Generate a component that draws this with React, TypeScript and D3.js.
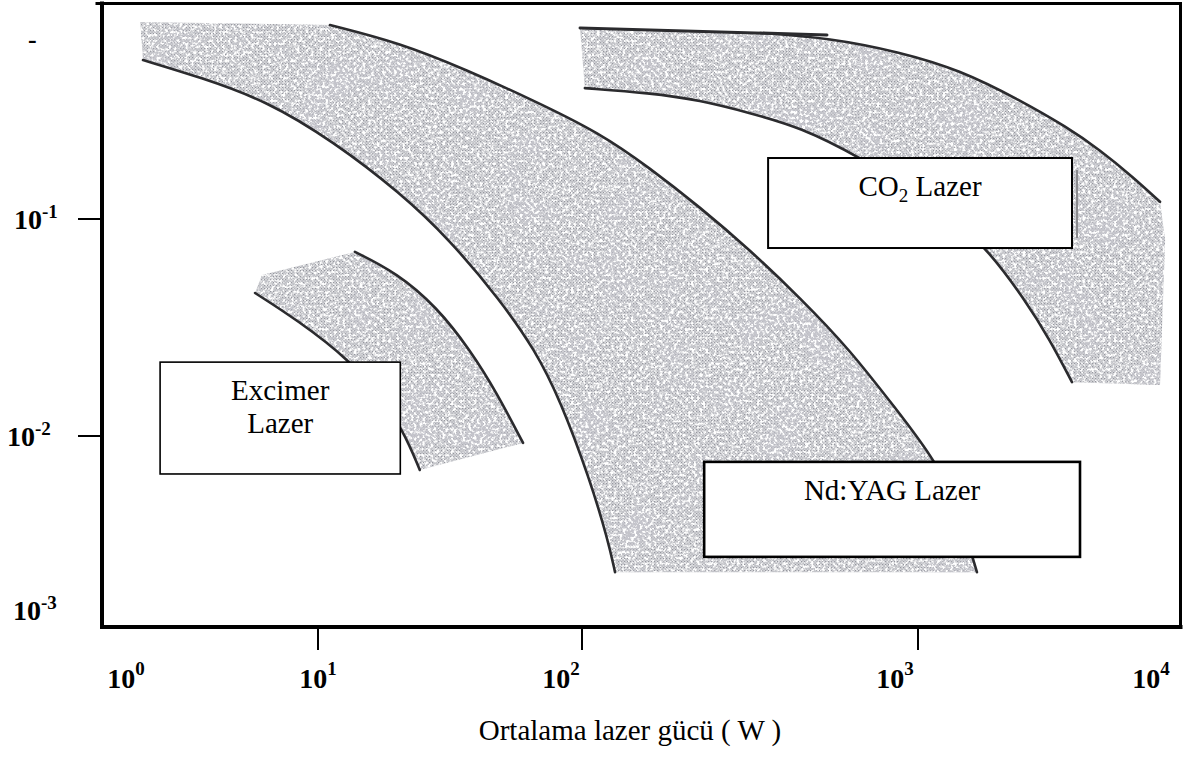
import React from 'react';
import * as d3 from 'd3';

// ---------- data ----------
const xTickValues = [1, 10, 100, 1000, 10000];
const xTickExponents = ['0', '1', '2', '3', '4'];
const xTickMarks = [10, 100, 1000];
const yTickValues = [0.001, 0.01, 0.1];
const yTickExponents = ['-3', '-2', '-1'];
const yTickMarks = [0.01, 0.1];
const xTitle = 'Ortalama lazer gücü ( W )';

// Nd:YAG band edges [power W, value]
const ndyagInner: [number, number][] = [
  [1.24, 0.54], [2.45, 0.45], [5.44, 0.35], [11.4, 0.228], [20.5, 0.132], [31.6, 0.08],
  [48.9, 0.0424], [66.4, 0.0249], [82.6, 0.0147], [105.7, 0.00558], [119.5, 0.00252], [125.4, 0.00165],
];
const ndyagOuter: [number, number][] = [
  [11.1, 0.783], [20.5, 0.647], [36.6, 0.486], [65.2, 0.353], [113, 0.249], [159, 0.172],
  [224, 0.1136], [316, 0.072], [446, 0.0433], [628, 0.0249], [855, 0.01346], [1214, 0.0071],
  [1537, 0.00351], [1828, 0.00165],
];
const ndyagShadeCorner: [number, number][] = [[1.2, 0.809]];

// Excimer band edges
const excimerInner: [number, number][] = [
  [4.72, 0.0456], [7.78, 0.0343], [13.2, 0.0224], [17.2, 0.0151], [21.0, 0.01066], [24.3, 0.00638],
];
const excimerOuter: [number, number][] = [
  [13.8, 0.0705], [19.9, 0.0564], [28.2, 0.0393], [37.7, 0.0249], [47.6, 0.0158], [59.8, 0.00912],
];
const excimerShadeCorner: [number, number][] = [[5.13, 0.0552]];

// CO2 band edges
const co2Lower: [number, number][] = [
  [102, 0.401], [159, 0.381], [224, 0.353], [316, 0.308], [446, 0.265], [671, 0.193],
  [1021, 0.129], [1537, 0.0938], [2046, 0.072], [2991, 0.0424], [3860, 0.0277], [4835, 0.0177],
];
const co2Upper: [number, number][] = [
  [339, 0.72], [547, 0.683], [884, 0.588], [1537, 0.486], [2840, 0.353], [4593, 0.265],
  [6442, 0.208], [9030, 0.156], [11900, 0.12],
];
const co2TopRule: [number, number][] = [[98.3, 0.759], [536, 0.705]];
const co2ShadeCorners: [number, number][] = [[12540, 0.08], [11900, 0.0172]];

// label boxes (power range, value range)
const boxLabels = ['Excimer|Lazer', 'CO2 Lazer', 'Nd:YAG Lazer'];
const boxPower: [number, number][] = [[1.52, 20.5], [358, 4835], [231, 5248]];
const boxValue: [number, number][] = [[0.0219, 0.00605], [0.191, 0.0735], [0.0071, 0.00202]];

// ---------- layout ----------
const W = 1185;
const H = 760;
const FONT = '"Liberation Serif", "Times New Roman", Times, serif';
const xLabelNudge = [1, 0, -21, -23, 8];
const yLabelStart = [13, 7, 14];
const boxStroke = [1.6, 2, 2.6];

const x = d3.scaleLog().domain([1, 10, 100, 1000, 10000]).range([125, 318, 582, 918, 1143]);
const y = d3.scaleLog().domain([1, 0.1, 0.01, 0.001]).range([2, 219, 436, 610]);

const curve = d3
  .line<[number, number]>()
  .x((d) => x(d[0]))
  .y((d) => y(d[1]))
  .curve(d3.curveBasis);
const straight = d3
  .line<[number, number]>()
  .x((d) => x(d[0]))
  .y((d) => y(d[1]));

const tail = (p: string | null) => 'L' + (p || '').slice(1);

function bandPath(start: [number, number][], outer: [number, number][], mid: [number, number][], inner: [number, number][]) {
  let p = straight(start) || '';
  p += tail(curve(outer));
  if (mid.length) p += tail(straight(mid));
  p += tail(curve([...inner].reverse()));
  return p + 'Z';
}

export default function App() {
  const ndShade = bandPath(ndyagShadeCorner, ndyagOuter, [], ndyagInner);
  const exShade = bandPath(excimerShadeCorner, excimerOuter, [], excimerInner);
  const coShade = bandPath([co2TopRule[0]], co2Upper, co2ShadeCorners, co2Lower);

  const edgeLines = [ndyagInner, ndyagOuter, excimerInner, excimerOuter, co2Lower, co2Upper];

  const plotLeft = 102;
  const plotRight = 1180.5;
  const plotTop = 3.5;
  const plotBottom = 627;

  return (
    <svg
      width={W}
      height={H}
      viewBox={`0 0 ${W} ${H}`}
      style={{ position: 'absolute', left: 0, top: 0, background: '#fff' }}
      fontFamily={FONT}
    >
      <defs>
        <pattern id="stip" width="3" height="3" patternUnits="userSpaceOnUse">
          <rect width="3" height="3" fill="#d3d4d8" />
          <rect x="0" y="0" width="1.2" height="1.2" fill="#96979f" />
          <rect x="1.5" y="1.5" width="1.2" height="1.2" fill="#a6a7ae" />
        </pattern>
        <filter id="speck" x="-5%" y="-5%" width="110%" height="110%">
          <feTurbulence type="fractalNoise" baseFrequency="0.35" numOctaves="3" seed="7" result="noise" />
          <feColorMatrix
            in="noise"
            type="matrix"
            values="0 0 0 0 1  0 0 0 0 1  0 0 0 0 1  5 0 0 0 -2.4"
            result="white"
          />
          <feComposite in="white" in2="SourceGraphic" operator="in" result="specks" />
          <feTurbulence type="fractalNoise" baseFrequency="0.02" numOctaves="2" seed="3" result="blot" />
          <feColorMatrix
            in="blot"
            type="matrix"
            values="0 0 0 0 0.55  0 0 0 0 0.55  0 0 0 0 0.6  0 2.5 0 0 -1.2"
            result="dark"
          />
          <feComposite in="dark" in2="SourceGraphic" operator="in" result="blots" />
          <feMerge>
            <feMergeNode in="SourceGraphic" />
            <feMergeNode in="blots" />
            <feMergeNode in="specks" />
          </feMerge>
        </filter>
      </defs>
      <rect width={W} height={H} fill="#fff" />

      {/* shaded bands */}
      <g filter="url(#speck)">
        <path d={ndShade} fill="url(#stip)" />
        <path d={exShade} fill="url(#stip)" />
        <path d={coShade} fill="url(#stip)" />
      </g>

      {/* band edges */}
      <g fill="none" stroke="#2b2b2e" strokeWidth={2.6} strokeLinecap="round">
        {edgeLines.map((d, i) => (
          <path key={i} d={curve(d) || ''} />
        ))}
        <path d={straight(co2TopRule) || ''} strokeWidth={3} />
      </g>

      {/* label boxes */}
      {boxLabels.map((lab, i) => {
        const x0 = x(boxPower[i][0]);
        const x1 = x(boxPower[i][1]);
        const y0 = y(boxValue[i][0]);
        const y1 = y(boxValue[i][1]);
        const cx = (x0 + x1) / 2;
        const lines = lab.split('|');
        return (
          <g key={i}>
            {i === 1 && (
              <line x1={x1 + 5} x2={x1 + 5} y1={y0 + 12} y2={y1 - 10} stroke="#8a8a8e" strokeWidth={2} />
            )}
            <rect x={x0} y={y0} width={x1 - x0} height={y1 - y0} fill="#fff" stroke="#000" strokeWidth={boxStroke[i]} />
            {lines.map((ln, j) => (
              <text key={j} x={cx} y={y0 + 38 + j * 33} textAnchor="middle" fontSize={29} fill="#000">
                {ln.startsWith('CO2') ? (
                  <>
                    CO<tspan fontSize={19} dy={6}>2</tspan>
                    <tspan dy={-6}>{ln.slice(3)}</tspan>
                  </>
                ) : (
                  ln
                )}
              </text>
            ))}
          </g>
        );
      })}

      {/* frame */}
      <g stroke="#000" strokeLinecap="square">
        <line x1={97} x2={plotRight} y1={plotTop} y2={plotTop} strokeWidth={3} />
        <line x1={plotRight} x2={plotRight} y1={plotTop} y2={plotBottom} strokeWidth={3} />
        <line x1={plotLeft} x2={plotLeft} y1={plotTop} y2={plotBottom} strokeWidth={4} />
        <line x1={plotLeft} x2={plotRight} y1={plotBottom} y2={plotBottom} strokeWidth={4} />
      </g>

      {/* ticks */}
      <g stroke="#000" strokeWidth={2}>
        {xTickMarks.map((v) => (
          <line key={v} x1={x(v)} x2={x(v)} y1={plotBottom} y2={plotBottom + 23} />
        ))}
        {yTickMarks.map((v) => (
          <line key={v} x1={plotLeft - 24} x2={plotLeft} y1={y(v)} y2={y(v)} />
        ))}
      </g>

      {/* tick labels */}
      <g fontWeight="bold" fill="#000">
        {xTickValues.map((v, i) => (
          <text key={v} x={x(v) + xLabelNudge[i]} y={688} textAnchor="middle" fontSize={28}>
            10<tspan fontSize={19} dy={-13}>{xTickExponents[i]}</tspan>
          </text>
        ))}
        {yTickValues.map((v, i) => (
          <text key={v} x={yLabelStart[i]} y={y(v) + 10} fontSize={28}>
            10<tspan fontSize={19} dy={-11}>{yTickExponents[i]}</tspan>
          </text>
        ))}
        <text x={28} y={48} fontSize={26}>-</text>
      </g>

      {/* axis title */}
      <text x={630} y={740} textAnchor="middle" fontSize={29} fill="#000">
        {xTitle}
      </text>
    </svg>
  );
}
